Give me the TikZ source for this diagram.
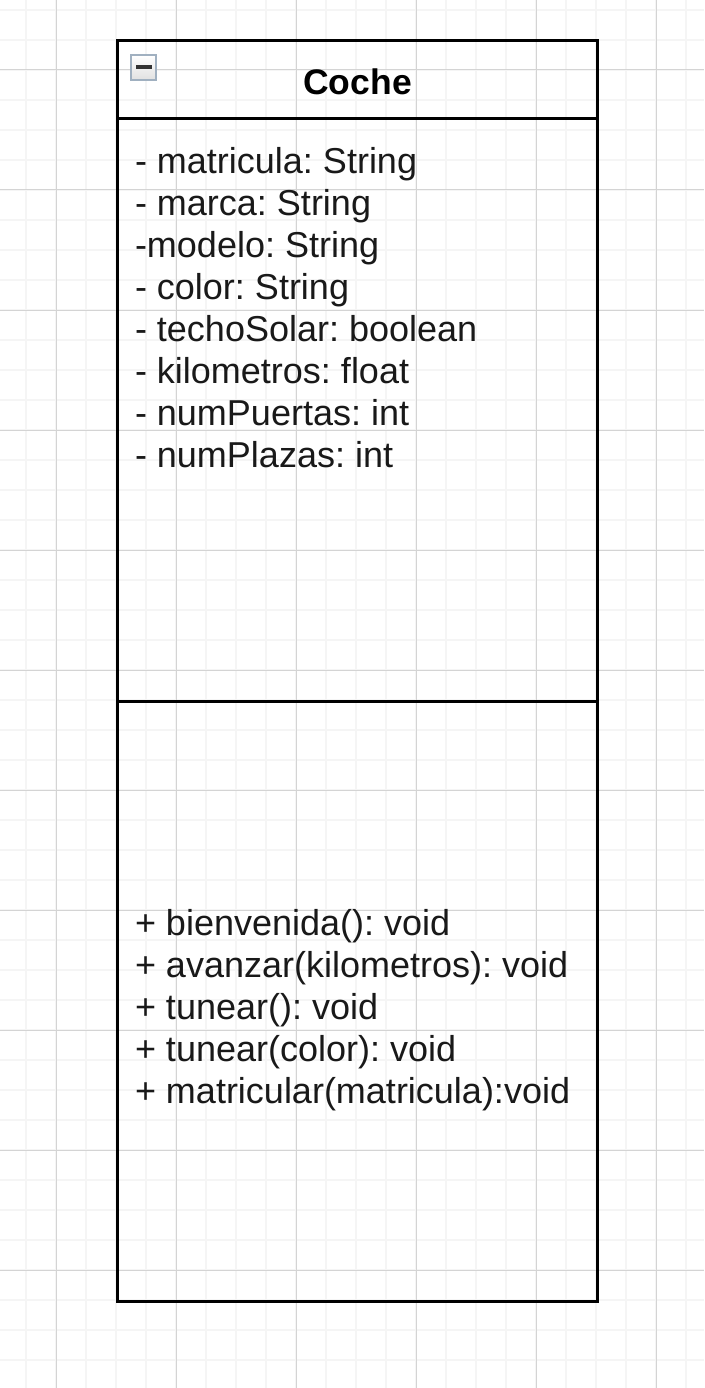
\documentclass[tikz,border=0pt]{standalone}
\usepackage{fontspec}
\setmainfont{Liberation Sans}
\definecolor{togglerim}{RGB}{160,176,192}
\begin{document}
\frenchspacing
\begin{tikzpicture}[x=1pt,y=-1pt,
  every node/.style={inner sep=0pt,outer sep=0pt},
  minorgrid/.style={draw=black!4,line width=2pt},
  majorgrid/.style={draw=black!17,line width=1pt},
  part/.style={draw=black,line width=3pt,minimum width=480pt,anchor=north west},
  members/.style={anchor=north west,align=left,font=\fontsize{36}{42}\selectfont\frenchspacing,text=black!90},
  title/.style={font=\bfseries\fontsize{35.5}{42}\selectfont,text=black}]
\useasboundingbox (0,0) rectangle (704,1388);
\fill[white] (0,0) rectangle (704,1388);
\foreach \x in {26,56,...,704} \draw[minorgrid] (\x,0) -- (\x,1388);
\foreach \y in {10,40,...,1388} \draw[minorgrid] (0,\y) -- (704,\y);
\foreach \x in {56,176,...,704} \draw[majorgrid] (\x,0) -- (\x,1388);
\foreach \y in {70,190,...,1388} \draw[majorgrid] (0,\y) -- (704,\y);
\node[part,minimum height=78pt] (head) at (117,41) {};
\node[part,minimum height=582pt] (attrs) at (117,119) {};
\node[part,minimum height=600pt] (meths) at (117,701) {};
\node[title] (name) at (357.5,82) {Coche};
\node[members] (attrtext) at (135,147) {- matricula: String\\- marca: String\\-modelo: String\\- color: String\\- techoSolar: boolean\\- kilometros: float\\- numPuertas: int\\- numPlazas: int};
\node[members] (methtext) at (135,909) {+ bienvenida(): void\\+ avanzar(kilometros): void\\+ tunear(): void\\+ tunear(color): void\\+ matricular(matricula):void};
\node[draw=togglerim,line width=2pt,minimum width=25pt,minimum height=25pt,top color=white,bottom color=black!12,anchor=north west] (toggle) at (131,55) {};
\fill[black!80] (136,65.5) rectangle (152,69.5);
\end{tikzpicture}
\end{document}
